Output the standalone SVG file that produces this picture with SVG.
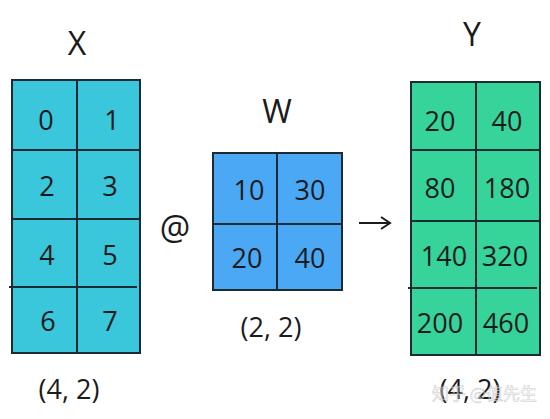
<svg xmlns="http://www.w3.org/2000/svg" width="550" height="419" viewBox="0 0 550 419">
<style>
.t{font-family:"Open Sans","Noto Sans",sans-serif;fill:#1b1b1b;text-anchor:middle;dominant-baseline:central}
.n{font-size:27px}
.g{stroke:#1a2b33;stroke-width:2;fill:none}
.b{stroke:#1a2b33;stroke-width:2}
</style>
<rect width="550" height="419" fill="#ffffff"/>
<g id="X">
<rect x="12" y="80" width="128" height="273" fill="#3ac6db" class="b"/>
<path class="g" d="M77 80V353M12 150H140M12 219H140M9 287H137"/>
<text class="t" x="77" y="42" font-size="32">X</text>
<text class="t n" x="46" y="119">0</text><text class="t n" x="112" y="119">1</text>
<text class="t n" x="47" y="185">2</text><text class="t n" x="110" y="185">3</text>
<text class="t n" x="47" y="254">4</text><text class="t n" x="110" y="254">5</text>
<text class="t n" x="48" y="320">6</text><text class="t n" x="110" y="320">7</text>
<text class="t n" x="69" y="388">(4, 2)</text>
</g>
<text class="t" x="175" y="227" font-size="34">@</text>
<g id="W">
<rect x="213" y="153" width="129" height="137" fill="#4aa8f4" class="b"/>
<path class="g" d="M277 153V290M213 224H342"/>
<text class="t" x="277" y="110" font-size="32">W</text>
<text class="t n" x="249" y="189">10</text><text class="t n" x="310" y="189">30</text>
<text class="t n" x="247" y="257">20</text><text class="t n" x="310" y="257">40</text>
<text class="t n" x="271" y="326">(2, 2)</text>
</g>
<g id="connectors">
<path d="M359 223H389M381 217L390 223L381 229" stroke="#1b1b1b" stroke-width="2" fill="none"/>
</g>
<g id="Y">
<rect x="411" y="82" width="129" height="273" fill="#36d39b" class="b"/>
<path class="g" d="M476 82V355M411 150H540M411 221H540M408 288H537"/>
<text class="t" x="472" y="33" font-size="32">Y</text>
<text class="t n" x="440" y="120">20</text><text class="t n" x="507" y="120">40</text>
<text class="t n" x="440" y="187">80</text><text class="t n" x="507" y="187">180</text>
<text class="t n" x="444" y="255">140</text><text class="t n" x="505" y="255">320</text>
<text class="t n" x="440" y="322">200</text><text class="t n" x="506" y="322">460</text>
<text class="t n" x="470" y="388">(4, 2)</text>
</g>
<text x="432" y="400" font-family="'Noto Sans CJK SC',sans-serif" font-size="17" fill="#ffffff" fill-opacity="0.55" stroke="#999" stroke-width="0.5" stroke-opacity="0.6">知乎 @值先生</text>
</svg>
